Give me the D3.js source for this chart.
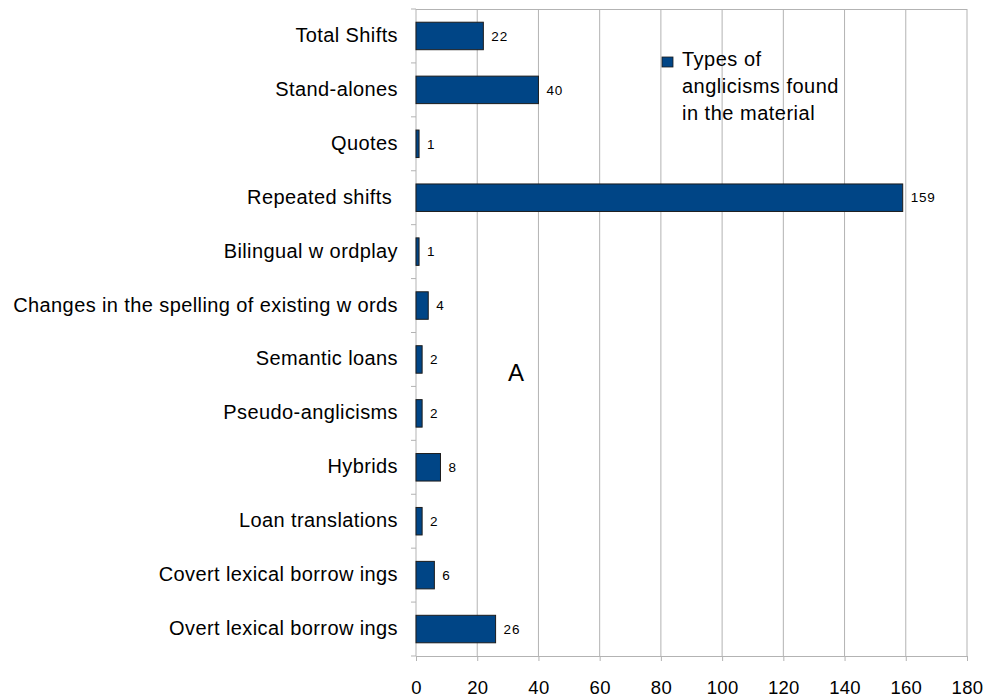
<!DOCTYPE html>
<html>
<head>
<meta charset="utf-8">
<script src="https://cdn.jsdelivr.net/npm/d3@7"></script>
<style>
  html, body { margin: 0; padding: 0; background: #fff; }
  svg { display: block; font-family: "Liberation Sans", Arial, sans-serif; }
</style>
</head>
<body>
<svg id="chart" width="987" height="697"></svg>
<script>
// ---- data ----
const categories = [
  "Total Shifts",
  "Stand-alones",
  "Quotes",
  "Repeated shifts ",
  "Bilingual w ordplay",
  "Changes in the spelling of existing w ords",
  "Semantic loans",
  "Pseudo-anglicisms",
  "Hybrids",
  "Loan translations",
  "Covert lexical borrow ings",
  "Overt lexical borrow ings"
];
const values = [22, 40, 1, 159, 1, 4, 2, 2, 8, 2, 6, 26];
const xTicks = [0, 20, 40, 60, 80, 100, 120, 140, 160, 180];
const legendLines = ["Types of", "anglicisms found", "in the material"];
const annotation = "A";

(function () {
// ---- layout ----
const svg = d3.select("#chart");
const pLeft = 416, pRight = 967, pTop = 9, pBottom = 656;
const barColor = "#004586";
const gridColor = "#b3b3b3";

const x = d3.scaleLinear().domain([0, 180]).range([pLeft, pRight]);
const y = d3.scaleBand().domain(categories).range([pTop, pBottom])
  .paddingInner(0.49).paddingOuter(0.245);

// grid lines
svg.append("g").selectAll("line").data(xTicks.filter(d => d > 0)).join("line")
  .attr("x1", d => x(d)).attr("x2", d => x(d))
  .attr("y1", pTop).attr("y2", pBottom)
  .attr("stroke", gridColor).attr("stroke-width", 1);
// top border
svg.append("line").attr("x1", pLeft).attr("x2", pRight).attr("y1", pTop + 0.5).attr("y2", pTop + 0.5)
  .attr("stroke", gridColor);

// bottom axis
const xAxis = d3.axisBottom(x).tickValues(xTicks).tickSize(5).tickPadding(20).tickFormat(d3.format("d"));
const gx = svg.append("g").attr("transform", `translate(0,${pBottom})`).call(xAxis);
gx.select(".domain").attr("stroke", gridColor);
gx.selectAll(".tick line").attr("stroke", gridColor);
gx.selectAll(".tick text").attr("font-size", 18.5).attr("letter-spacing", "0.3px").attr("fill", "#000")
  .attr("font-family", "'Liberation Sans', Arial, sans-serif");

// left axis: band boundary ticks
const step = y.step();
const boundaries = d3.range(categories.length + 1).map(i => pTop + i * step);
svg.append("line").attr("x1", pLeft).attr("x2", pLeft).attr("y1", pTop).attr("y2", pBottom)
  .attr("stroke", gridColor);
svg.append("g").selectAll("line").data(boundaries).join("line")
  .attr("x1", pLeft - 5).attr("x2", pLeft).attr("y1", d => d).attr("y2", d => d)
  .attr("stroke", gridColor);

// category labels
svg.append("g").selectAll("text").data(categories).join("text")
  .attr("x", 398).attr("y", d => y(d) + y.bandwidth() / 2)
  .attr("dy", "0.3em").attr("text-anchor", "end")
  .attr("font-size", 20).attr("letter-spacing", "0.4px").attr("fill", "#000")
  .style("white-space", "pre")
  .text(d => d);

// bars
svg.append("g").selectAll("rect").data(values).join("rect")
  .attr("x", x(0))
  .attr("y", (d, i) => y(categories[i]))
  .attr("width", d => x(d) - x(0))
  .attr("height", y.bandwidth())
  .attr("fill", barColor)
  .attr("stroke", "#1c1c1c").attr("stroke-width", 1);

// value labels
svg.append("g").selectAll("text").data(values).join("text")
  .attr("x", d => x(d) + 8)
  .attr("y", (d, i) => y(categories[i]) + y.bandwidth() / 2)
  .attr("dy", "0.35em")
  .attr("font-size", 13.5).attr("letter-spacing", "0.8px").attr("fill", "#000")
  .text(d => d);

// legend
const lg = svg.append("g");
lg.append("rect").attr("x", 662).attr("y", 57).attr("width", 11).attr("height", 10)
  .attr("fill", barColor).attr("stroke", "#1c1c1c").attr("stroke-width", 0.8);
lg.selectAll("text").data(legendLines).join("text")
  .attr("x", 682).attr("y", (d, i) => 66 + i * 27)
  .attr("font-size", 20).attr("letter-spacing", "0.5px").attr("fill", "#000")
  .text(d => d);

// annotation
svg.append("text").attr("x", 516).attr("y", 381).attr("text-anchor", "middle")
  .attr("font-size", 24).attr("fill", "#000").text(annotation);
})();
</script>
</body>
</html>
